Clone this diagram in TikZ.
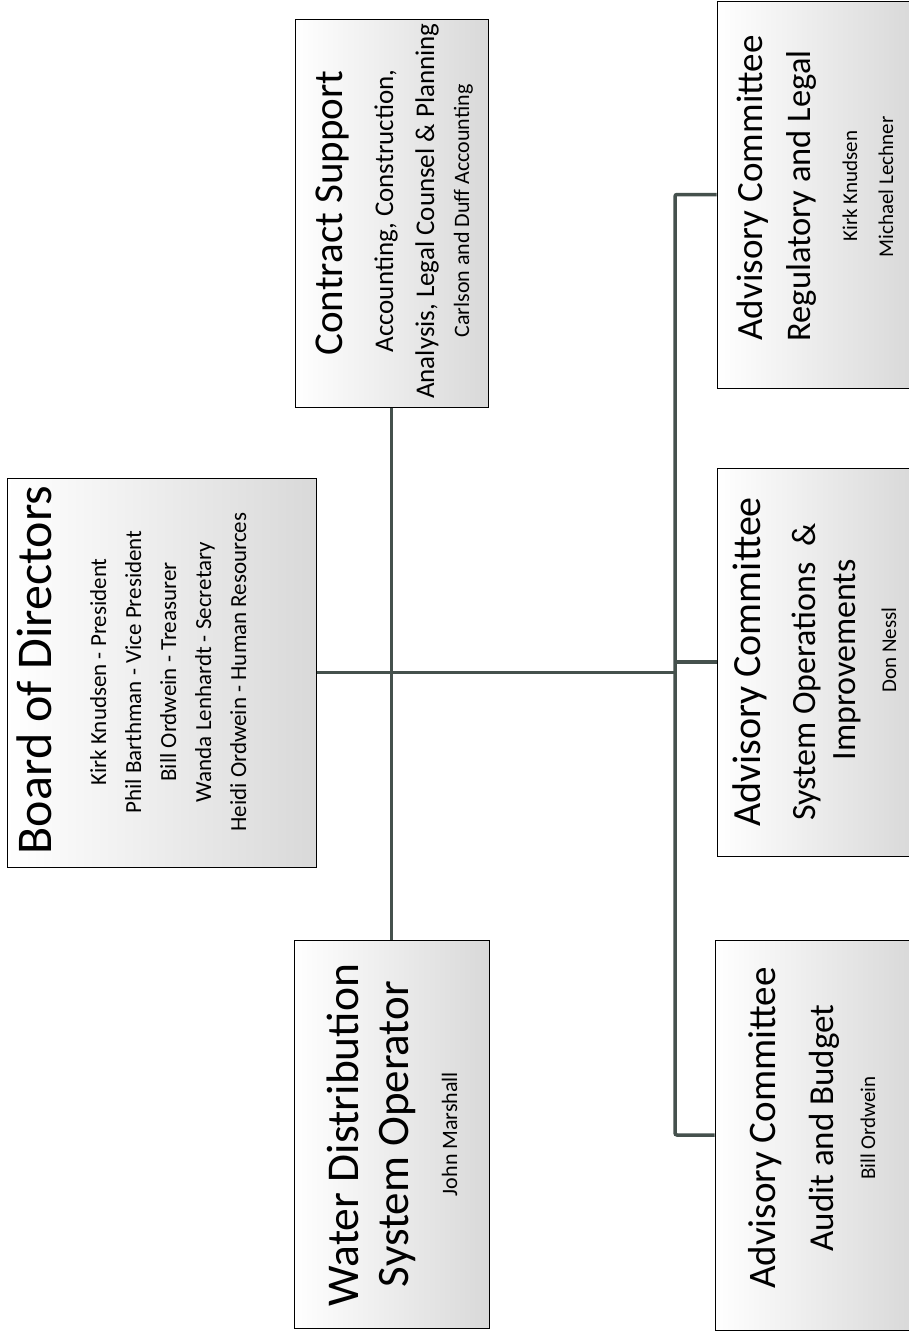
\documentclass[tikz,border=0pt]{standalone}
\usepackage{fontspec}
\setmainfont{Carlito}
\newcommand\fsz[1]{\fontsize{#1pt}{#1pt}\selectfont}
\definecolor{connc}{HTML}{45514D}
\tikzset{
  box/.style={draw=black, line width=1pt, left color=white, right color=black!15, inner sep=0pt, rectangle},
  conn/.style={draw=connc, line width=3.5pt},
  txt/.style={rotate=90, anchor=base, inner sep=0pt, text=black},
}
\begin{document}
\begin{tikzpicture}[x=1pt, y=-1pt]
\useasboundingbox (0,0) rectangle (909,1334);
\clip (0,0) rectangle (909,1334);
\fill[white] (0,0) rectangle (909,1334);

% boxes
\node[box, minimum width=309pt, minimum height=389pt] (board) at (161.5,672.5) {};
\node[box, minimum width=193pt, minimum height=388pt] (contract) at (391.5,213) {};
\node[box, minimum width=195pt, minimum height=388pt] (water) at (391.5,1134) {};
\node[box, minimum width=196pt, minimum height=387pt] (reg) at (815,194.5) {};
\node[box, minimum width=196pt, minimum height=388pt] (sysops) at (815,662) {};
\node[box, minimum width=198pt, minimum height=390pt] (audit) at (814,1135) {};

% connectors
\coordinate (sp) at (675,672.5);
\draw[conn, rounded corners=2pt] (reg.west) -| (sp) |- (audit.west);
\draw[conn] (board.east) -- (sp);
\draw[conn] (sysops.west) -- (sysops.west -| sp);
\draw[conn] (contract.south) -- (contract.south |- water.north);

% Board of Directors
\node[txt, font=\fsz{50}] (bd0) at (51,670) {Board of Directors};
\node[txt, font=\fsz{23}] (bd1) at (106,672) {Kirk Knudsen - President};
\node[txt, font=\fsz{23}] (bd2) at (141,672) {Phil Barthman - Vice President};
\node[txt, font=\fsz{23}] (bd3) at (176,672) {Bill Ordwein - Treasurer};
\node[txt, font=\fsz{23}] (bd4) at (211,672) {Wanda Lenhardt - Secretary};
\node[txt, font=\fsz{23}] (bd5) at (246,672) {Heidi Ordwein - Human Resources};

% Contract Support
\node[txt, font=\fsz{41}] (cs0) at (342,213) {Contract Support};
\node[txt, font=\fsz{27}] (cs1) at (393,211) {Accounting, Construction,};
\node[txt, font=\fsz{27}] (cs2) at (434,211) {Analysis, Legal Counsel \& Planning};
\node[txt, font=\fsz{22}] (cs3) at (469,211) {Carlson and Duff Accounting};

% Water Distribution
\node[txt, font=\fsz{45.5}] (wd0) at (358,1135) {Water Distribution};
\node[txt, font=\fsz{45}] (wd1) at (408,1134) {System Operator};
\node[txt, font=\fsz{22}] (wd2) at (457,1134) {John Marshall};

% Regulatory and Legal
\node[txt, font=\fsz{37}] (rg0) at (762,188) {Advisory Committee};
\node[txt, font=\fsz{34.5}] (rg1) at (810,196) {Regulatory and Legal};
\node[txt, font=\fsz{21}] (rg2) at (857,186) {Kirk Knudsen};
\node[txt, font=\fsz{21}] (rg3) at (893,187) {Michael Lechner};

% System Operations
\node[txt, font=\fsz{40}] (so0) at (760,662) {Advisory Committee};
\node[txt, font=\fsz{34}] (so1) at (815,672) {System Operations \ \&};
\node[txt, font=\fsz{34}] (so2) at (855,660) {Improvements};
\node[txt, font=\fsz{21}] (so3) at (896,650) {Don Nessl};

% Audit and Budget
\node[txt, font=\fsz{39}] (ab0) at (775,1128) {Advisory Committee};
\node[txt, font=\fsz{35}] (ab1) at (833,1128) {Audit and Budget};
\node[txt, font=\fsz{21}] (ab2) at (875,1128) {Bill Ordwein};
\end{tikzpicture}
\end{document}
